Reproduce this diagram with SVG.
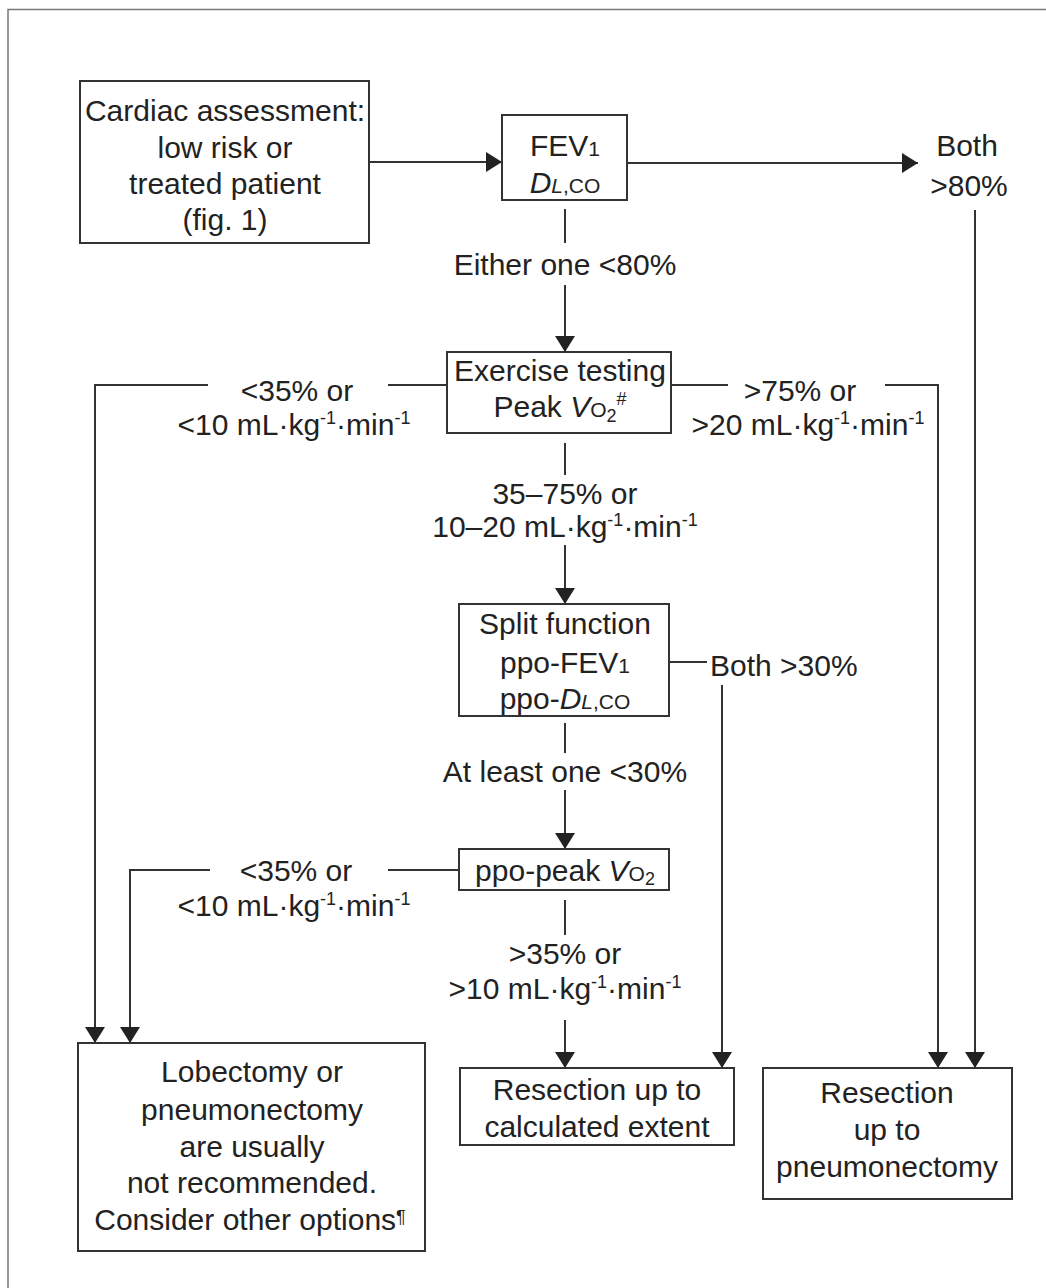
<svg xmlns="http://www.w3.org/2000/svg" width="1046" height="1288" viewBox="0 0 1046 1288">
<style>
.t{font-family:"Liberation Sans",Arial,sans-serif;font-size:30px;fill:#222;text-anchor:middle}
.st{text-anchor:start}
.box{fill:#fff;stroke:#333;stroke-width:2}
.ln{fill:none;stroke:#333;stroke-width:2}
.sm{font-size:21px}
.sup{font-size:18px}
.it{font-style:italic}
</style>
<defs>
<marker id="ah" viewBox="0 0 16 20" refX="16" refY="10" markerWidth="16" markerHeight="20" orient="auto" markerUnits="userSpaceOnUse">
<path d="M0,0 L16,10 L0,20 z" fill="#222"/>
</marker>
</defs>
<rect width="1046" height="1288" fill="#fff"/>
<path d="M8,1288 V9.5 H1046" fill="none" stroke="#777" stroke-width="1.5"/>

<g id="connectors">
<line class="ln" x1="369" y1="162" x2="502" y2="162" marker-end="url(#ah)"/>
<line class="ln" x1="627" y1="163" x2="918" y2="163" marker-end="url(#ah)"/>
<line class="ln" x1="975" y1="210" x2="975" y2="1068" marker-end="url(#ah)"/>
<line class="ln" x1="565" y1="209" x2="565" y2="243"/>
<line class="ln" x1="565" y1="285" x2="565" y2="352" marker-end="url(#ah)"/>
<line class="ln" x1="447" y1="385" x2="388" y2="385"/>
<path class="ln" d="M208,385 H95 V1043" marker-end="url(#ah)"/>
<line class="ln" x1="671" y1="385" x2="728" y2="385"/>
<path class="ln" d="M885,385 H938 V1068" marker-end="url(#ah)"/>
<line class="ln" x1="565" y1="443" x2="565" y2="475"/>
<line class="ln" x1="565" y1="545" x2="565" y2="604" marker-end="url(#ah)"/>
<line class="ln" x1="669" y1="662" x2="707" y2="662"/>
<line class="ln" x1="722" y1="685" x2="722" y2="1068" marker-end="url(#ah)"/>
<line class="ln" x1="565" y1="723" x2="565" y2="753"/>
<line class="ln" x1="565" y1="790" x2="565" y2="849" marker-end="url(#ah)"/>
<line class="ln" x1="459" y1="870" x2="388" y2="870"/>
<path class="ln" d="M210,870 H130 V1043" marker-end="url(#ah)"/>
<line class="ln" x1="565" y1="900" x2="565" y2="935"/>
<line class="ln" x1="565" y1="1020" x2="565" y2="1068" marker-end="url(#ah)"/>
</g>

<g id="labels">
<text class="t" x="967" y="156">Both</text>
<text class="t" x="969" y="196">&gt;80%</text>
<text class="t" x="565" y="275">Either one &lt;80%</text>
<text class="t" x="297" y="401">&lt;35% or</text>
<text class="t" x="294" y="435">&lt;10 mL·kg<tspan class="sup" dy="-11">-1</tspan><tspan dy="11">·min</tspan><tspan class="sup" dy="-11">-1</tspan></text>
<text class="t" x="800" y="401">&gt;75% or</text>
<text class="t" x="808" y="435">&gt;20 mL·kg<tspan class="sup" dy="-11">-1</tspan><tspan dy="11">·min</tspan><tspan class="sup" dy="-11">-1</tspan></text>
<text class="t" x="565" y="504">35–75% or</text>
<text class="t" x="565" y="537">10–20 mL·kg<tspan class="sup" dy="-11">-1</tspan><tspan dy="11">·min</tspan><tspan class="sup" dy="-11">-1</tspan></text>
<text class="t st" x="710" y="676">Both &gt;30%</text>
<text class="t" x="565" y="782">At least one &lt;30%</text>
<text class="t" x="296" y="881">&lt;35% or</text>
<text class="t" x="294" y="916">&lt;10 mL·kg<tspan class="sup" dy="-11">-1</tspan><tspan dy="11">·min</tspan><tspan class="sup" dy="-11">-1</tspan></text>
<text class="t" x="565" y="964">&gt;35% or</text>
<text class="t" x="565" y="999">&gt;10 mL·kg<tspan class="sup" dy="-11">-1</tspan><tspan dy="11">·min</tspan><tspan class="sup" dy="-11">-1</tspan></text>
</g>

<g id="cardiac">
<rect class="box" x="80" y="81" width="289" height="162"/>
<text class="t" x="225" y="121">Cardiac assessment:</text>
<text class="t" x="225" y="158">low risk or</text>
<text class="t" x="225" y="194">treated patient</text>
<text class="t" x="225" y="230">(fig. 1)</text>
</g>

<g id="fev1">
<rect class="box" x="502" y="115" width="125" height="85"/>
<text class="t" x="565" y="156">FEV<tspan class="sm">1</tspan></text>
<text class="t" x="565" y="193"><tspan class="it">D</tspan><tspan class="sm it">L</tspan><tspan class="sm">,CO</tspan></text>
</g>

<g id="exercise">
<rect class="box" x="447" y="352" width="224" height="81"/>
<text class="t" x="560" y="381">Exercise testing</text>
<text class="t" x="560" y="417">Peak <tspan class="it">V</tspan><tspan class="sm">O</tspan><tspan class="sup" dy="5">2</tspan><tspan class="sup" dy="-17">#</tspan></text>
</g>

<g id="split">
<rect class="box" x="459" y="604" width="210" height="112"/>
<text class="t" x="565" y="634">Split function</text>
<text class="t" x="565" y="673">ppo-FEV<tspan class="sm">1</tspan></text>
<text class="t" x="565" y="709">ppo-<tspan class="it">D</tspan><tspan class="sm it">L</tspan><tspan class="sm">,CO</tspan></text>
</g>

<g id="ppo-peak">
<rect class="box" x="459" y="849" width="210" height="41"/>
<text class="t" x="565" y="881">ppo-peak <tspan class="it">V</tspan><tspan class="sm">O</tspan><tspan class="sup" dy="4">2</tspan></text>
</g>

<g id="not-recommended">
<rect class="box" x="78" y="1043" width="347" height="208"/>
<text class="t" x="252" y="1082">Lobectomy or</text>
<text class="t" x="252" y="1120">pneumonectomy</text>
<text class="t" x="252" y="1157">are usually</text>
<text class="t" x="252" y="1193">not recommended.</text>
<text class="t" x="250" y="1230">Consider other options<tspan class="sup" dy="-7">¶</tspan></text>
</g>

<g id="calculated">
<rect class="box" x="460" y="1068" width="274" height="77"/>
<text class="t" x="597" y="1100">Resection up to</text>
<text class="t" x="597" y="1137">calculated extent</text>
</g>

<g id="pneumonectomy">
<rect class="box" x="763" y="1068" width="249" height="131"/>
<text class="t" x="887" y="1103">Resection</text>
<text class="t" x="887" y="1140">up to</text>
<text class="t" x="887" y="1177">pneumonectomy</text>
</g>
</svg>
